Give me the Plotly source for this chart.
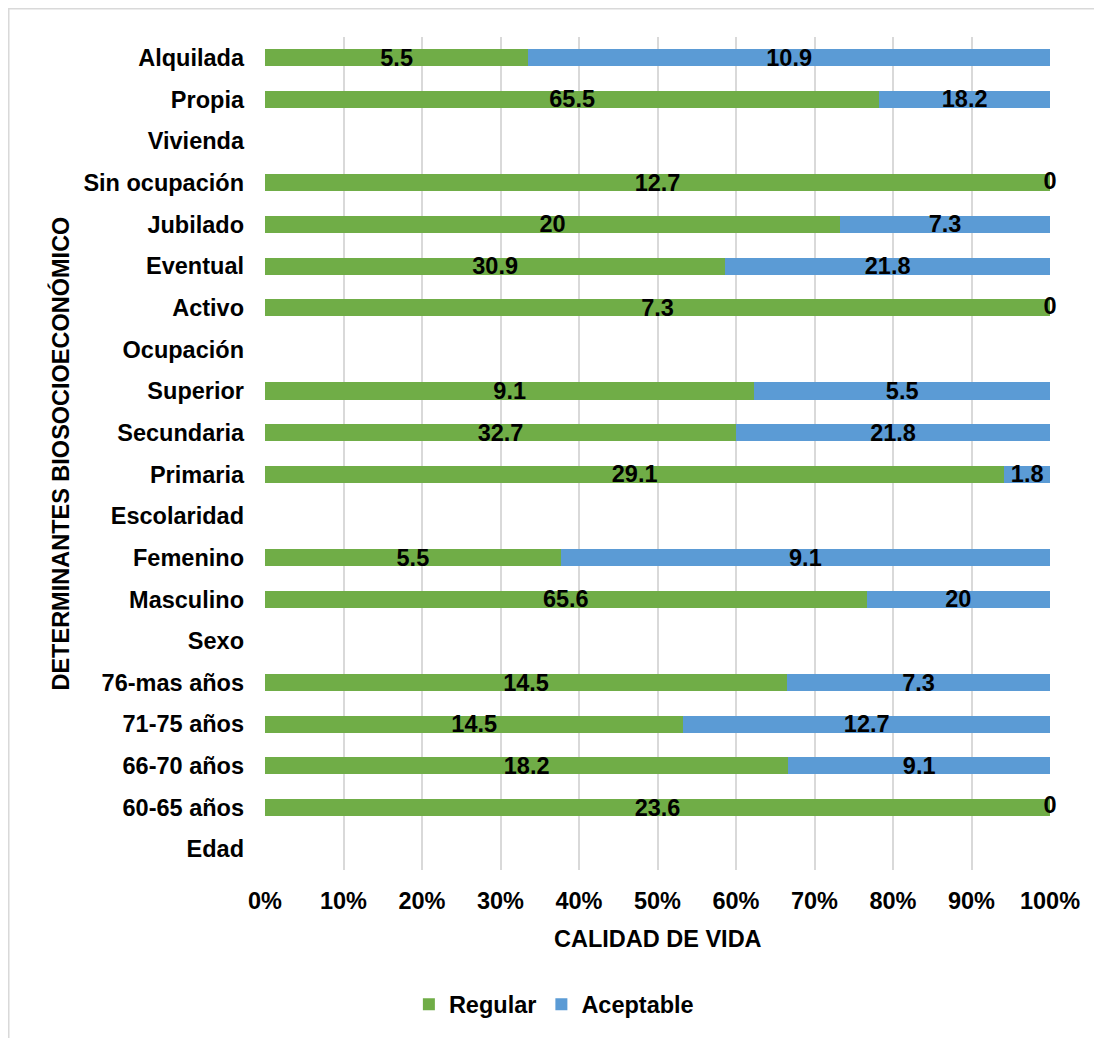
import plotly.graph_objects as go

categories = ["Edad", "60-65 años", "66-70 años", "71-75 años", "76-mas años",
              "Sexo", "Masculino", "Femenino",
              "Escolaridad", "Primaria", "Secundaria", "Superior",
              "Ocupación", "Activo", "Eventual", "Jubilado", "Sin ocupación",
              "Vivienda", "Propia", "Alquilada"]
regular = [None, 23.6, 18.2, 14.5, 14.5,
           None, 65.6, 5.5,
           None, 29.1, 32.7, 9.1,
           None, 7.3, 30.9, 20, 12.7,
           None, 65.5, 5.5]
aceptable = [None, 0, 9.1, 12.7, 7.3,
             None, 20, 9.1,
             None, 1.8, 21.8, 5.5,
             None, 0, 21.8, 7.3, 0,
             None, 18.2, 10.9]
x_ticks = list(range(0, 101, 10))
x_tick_labels = [f"{v}%" for v in x_ticks]

GREEN = "#70AD47"
BLUE = "#5B9BD5"
FONT = "Liberation Sans, Arial, sans-serif"
FS = 23.5


def fmt(v):
    if v is None or v == 0:
        return ""
    return ("%g" % v)


fig = go.Figure()
fig.add_trace(go.Bar(
    y=categories, x=regular, orientation="h", name="Regular",
    marker=dict(color=GREEN, line=dict(width=0)),
    text=[fmt(v) for v in regular], textposition="inside",
    insidetextanchor="middle", constraintext="none",
    textfont=dict(color="black", size=FS, family=FONT, weight="bold"),
))
fig.add_trace(go.Bar(
    y=categories, x=aceptable, orientation="h", name="Aceptable",
    marker=dict(color=BLUE, line=dict(width=0)),
    text=[fmt(v) for v in aceptable], textposition="inside",
    insidetextanchor="middle", constraintext="none",
    textfont=dict(color="black", size=FS, family=FONT, weight="bold"),
))

# zero-value labels at the end of the full bar
zero_y = [c for c, a in zip(categories, aceptable) if a == 0]
fig.add_trace(go.Scatter(
    y=zero_y, x=[100] * len(zero_y), mode="text", text=["0"] * len(zero_y),
    textposition="middle center", showlegend=False, cliponaxis=False,
    textfont=dict(color="black", size=FS, family=FONT, weight="bold"),
    hoverinfo="skip",
))

fig.update_layout(
    width=1094, height=1030,
    margin=dict(l=257, r=52, t=29, b=165),
    barmode="stack", barnorm="percent", bargap=0.59,
    plot_bgcolor="white", paper_bgcolor="white",
    font=dict(family=FONT, size=FS, color="black", weight="bold"),
    uniformtext=dict(minsize=FS, mode="show"),
    xaxis=dict(range=[0, 100], tickvals=x_ticks, ticktext=x_tick_labels,
               showgrid=True, gridcolor="#D9D9D9", gridwidth=1.5,
               zeroline=False, showline=False, ticks="",
               ticklabelstandoff=14, fixedrange=True),
    yaxis=dict(type="category", categoryorder="array", categoryarray=categories,
               range=[-0.5, len(categories) - 0.5],
               showgrid=False, zeroline=False, showline=False, ticks="",
               ticklabelstandoff=20, fixedrange=True),
    legend=dict(orientation="h", x=0.368, xanchor="center", y=-0.1615,
                yanchor="middle", font=dict(size=FS, weight="bold"),
                itemwidth=30, traceorder="normal"),
    showlegend=True,
    annotations=[
        dict(text="CALIDAD DE VIDA", xref="paper", yref="paper", x=0.5, y=-0.0825,
             xanchor="center", yanchor="middle", showarrow=False,
             font=dict(size=FS, weight="bold")),
        dict(text="DETERMINANTES BIOSOCIOECONÓMICO", xref="paper", yref="paper",
             x=-0.2611, y=0.5, xanchor="center", yanchor="middle", textangle=-90,
             showarrow=False, font=dict(size=FS, weight="bold")),
    ],
    shapes=[dict(type="rect", xref="paper", yref="paper",
                 x0=-0.3264, x1=1.2, y0=-0.3, y1=1.0338,
                 line=dict(color="#D9D9D9", width=1.5), layer="below")],
)

fig.write_html("out.html")
